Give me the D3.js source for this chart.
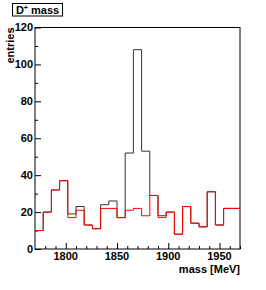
<!DOCTYPE html>
<html>
<head>
<meta charset="utf-8">
<script src="https://cdn.jsdelivr.net/npm/d3@7"></script>
<style>
  body { margin: 0; background: #fff; }
  text { font-family: "Liberation Sans", Arial, sans-serif; font-weight: bold; }
</style>
</head>
<body>
<div id="chart"></div>
<script>
// histogram: 25 bins of 8 MeV from 1770 to 1970
const binLow = 1770;
const binWidth = 8;
const allEntries = [10, 20, 32, 37, 19, 23, 13, 11, 24, 26, 17, 52, 108, 53, 29, 18, 20, 8, 23, 14, 12, 31, 13, 22, 22];
const bkgEntries = [10, 20, 32, 37, 17, 21, 13, 11, 22, 22, 17, 21, 22, 18, 29, 17, 20, 8, 23, 14, 12, 31, 13, 22, 22];
const xMajorTicks = [1800, 1850, 1900, 1950];
const yMajorTicks = [0, 20, 40, 60, 80, 100, 120];

const width = 266, height = 290;
const margin = { top: 27.5, right: 26, bottom: 41, left: 35 };
const w = width - margin.left - margin.right;
const h = height - margin.top - margin.bottom;

const svg = d3.select('#chart')
    .append('svg')
    .attr('width', width)
    .attr('height', height);

const g = svg.append('g')
    .attr('transform', `translate(${margin.left}, ${margin.top})`);

const xScale = d3.scaleLinear()
    .domain([binLow, binLow + binWidth * allEntries.length])
    .range([0, w]);

const yScale = d3.scaleLinear()
    .domain([0, 120])
    .range([h, 0]);

// frame
g.append('rect')
    .attr('width', w)
    .attr('height', h)
    .attr('fill', 'none')
    .attr('stroke', '#000')
    .attr('stroke-width', 1);

// ticks point inside the frame like ROOT
const xAxis = g.append('g')
    .attr('transform', `translate(0, ${h})`)
    .call(d3.axisBottom(xScale).tickValues(d3.range(1780, 1971, 10)).tickSize(-3).tickFormat(''));
xAxis.select('.domain').remove();
xAxis.selectAll('.tick line')
    .filter(d => xMajorTicks.includes(d))
    .attr('y2', -6);

g.append('g')
    .attr('transform', `translate(0, ${h})`)
    .selectAll('text')
    .data(xMajorTicks)
    .enter().append('text')
    .attr('x', d => xScale(d))
    .attr('y', 11)
    .attr('text-anchor', 'middle')
    .style('font-size', '11px')
    .text(d => d);

const yAxis = g.append('g')
    .call(d3.axisLeft(yScale).tickValues(d3.range(0, 121, 10)).tickSize(-3).tickFormat(''));
yAxis.select('.domain').remove();
yAxis.selectAll('.tick line')
    .filter(d => yMajorTicks.includes(d))
    .attr('x2', 6);

g.append('g')
    .selectAll('text')
    .data(yMajorTicks)
    .enter().append('text')
    .attr('x', -2)
    .attr('y', d => yScale(d))
    .attr('dy', '0.36em')
    .attr('text-anchor', 'end')
    .style('font-size', '11px')
    .text(d => d);

// axis titles
g.append('text')
    .attr('x', w)
    .attr('y', h + 23.5)
    .attr('text-anchor', 'end')
    .style('font-size', '11px')
    .text('mass [MeV]');

g.append('text')
    .attr('transform', 'rotate(-90)')
    .attr('x', 0)
    .attr('y', -21)
    .attr('text-anchor', 'end')
    .style('font-size', '11px')
    .text('entries');

// histogram outlines
const stepLine = d3.line()
    .x(d => xScale(d.x))
    .y(d => yScale(d.y))
    .curve(d3.curveStepAfter);

function toSteps(values) {
    const pts = values.map((v, i) => ({ x: binLow + i * binWidth, y: v }));
    pts.push({ x: binLow + values.length * binWidth, y: values[values.length - 1] });
    return pts;
}

g.append('path')
    .datum(toSteps(allEntries))
    .attr('fill', 'none')
    .attr('stroke', '#333')
    .attr('stroke-width', 1)
    .attr('d', stepLine);

g.append('path')
    .datum(toSteps(bkgEntries))
    .attr('fill', 'none')
    .attr('stroke', '#f00')
    .attr('stroke-width', 1)
    .attr('d', stepLine);

// title box
const title = svg.append('g');
title.append('rect')
    .attr('x', 12.5)
    .attr('y', 3.5)
    .attr('width', 50)
    .attr('height', 12.5)
    .attr('fill', '#fff')
    .attr('stroke', '#000');

const tt = title.append('text')
    .attr('x', 37.5)
    .attr('y', 14)
    .attr('text-anchor', 'middle')
    .style('font-size', '11px');
tt.append('tspan').text('D');
tt.append('tspan').attr('dy', -4).style('font-size', '7px').text('+');
tt.append('tspan').attr('dy', 4).text(' mass');
</script>
</body>
</html>
